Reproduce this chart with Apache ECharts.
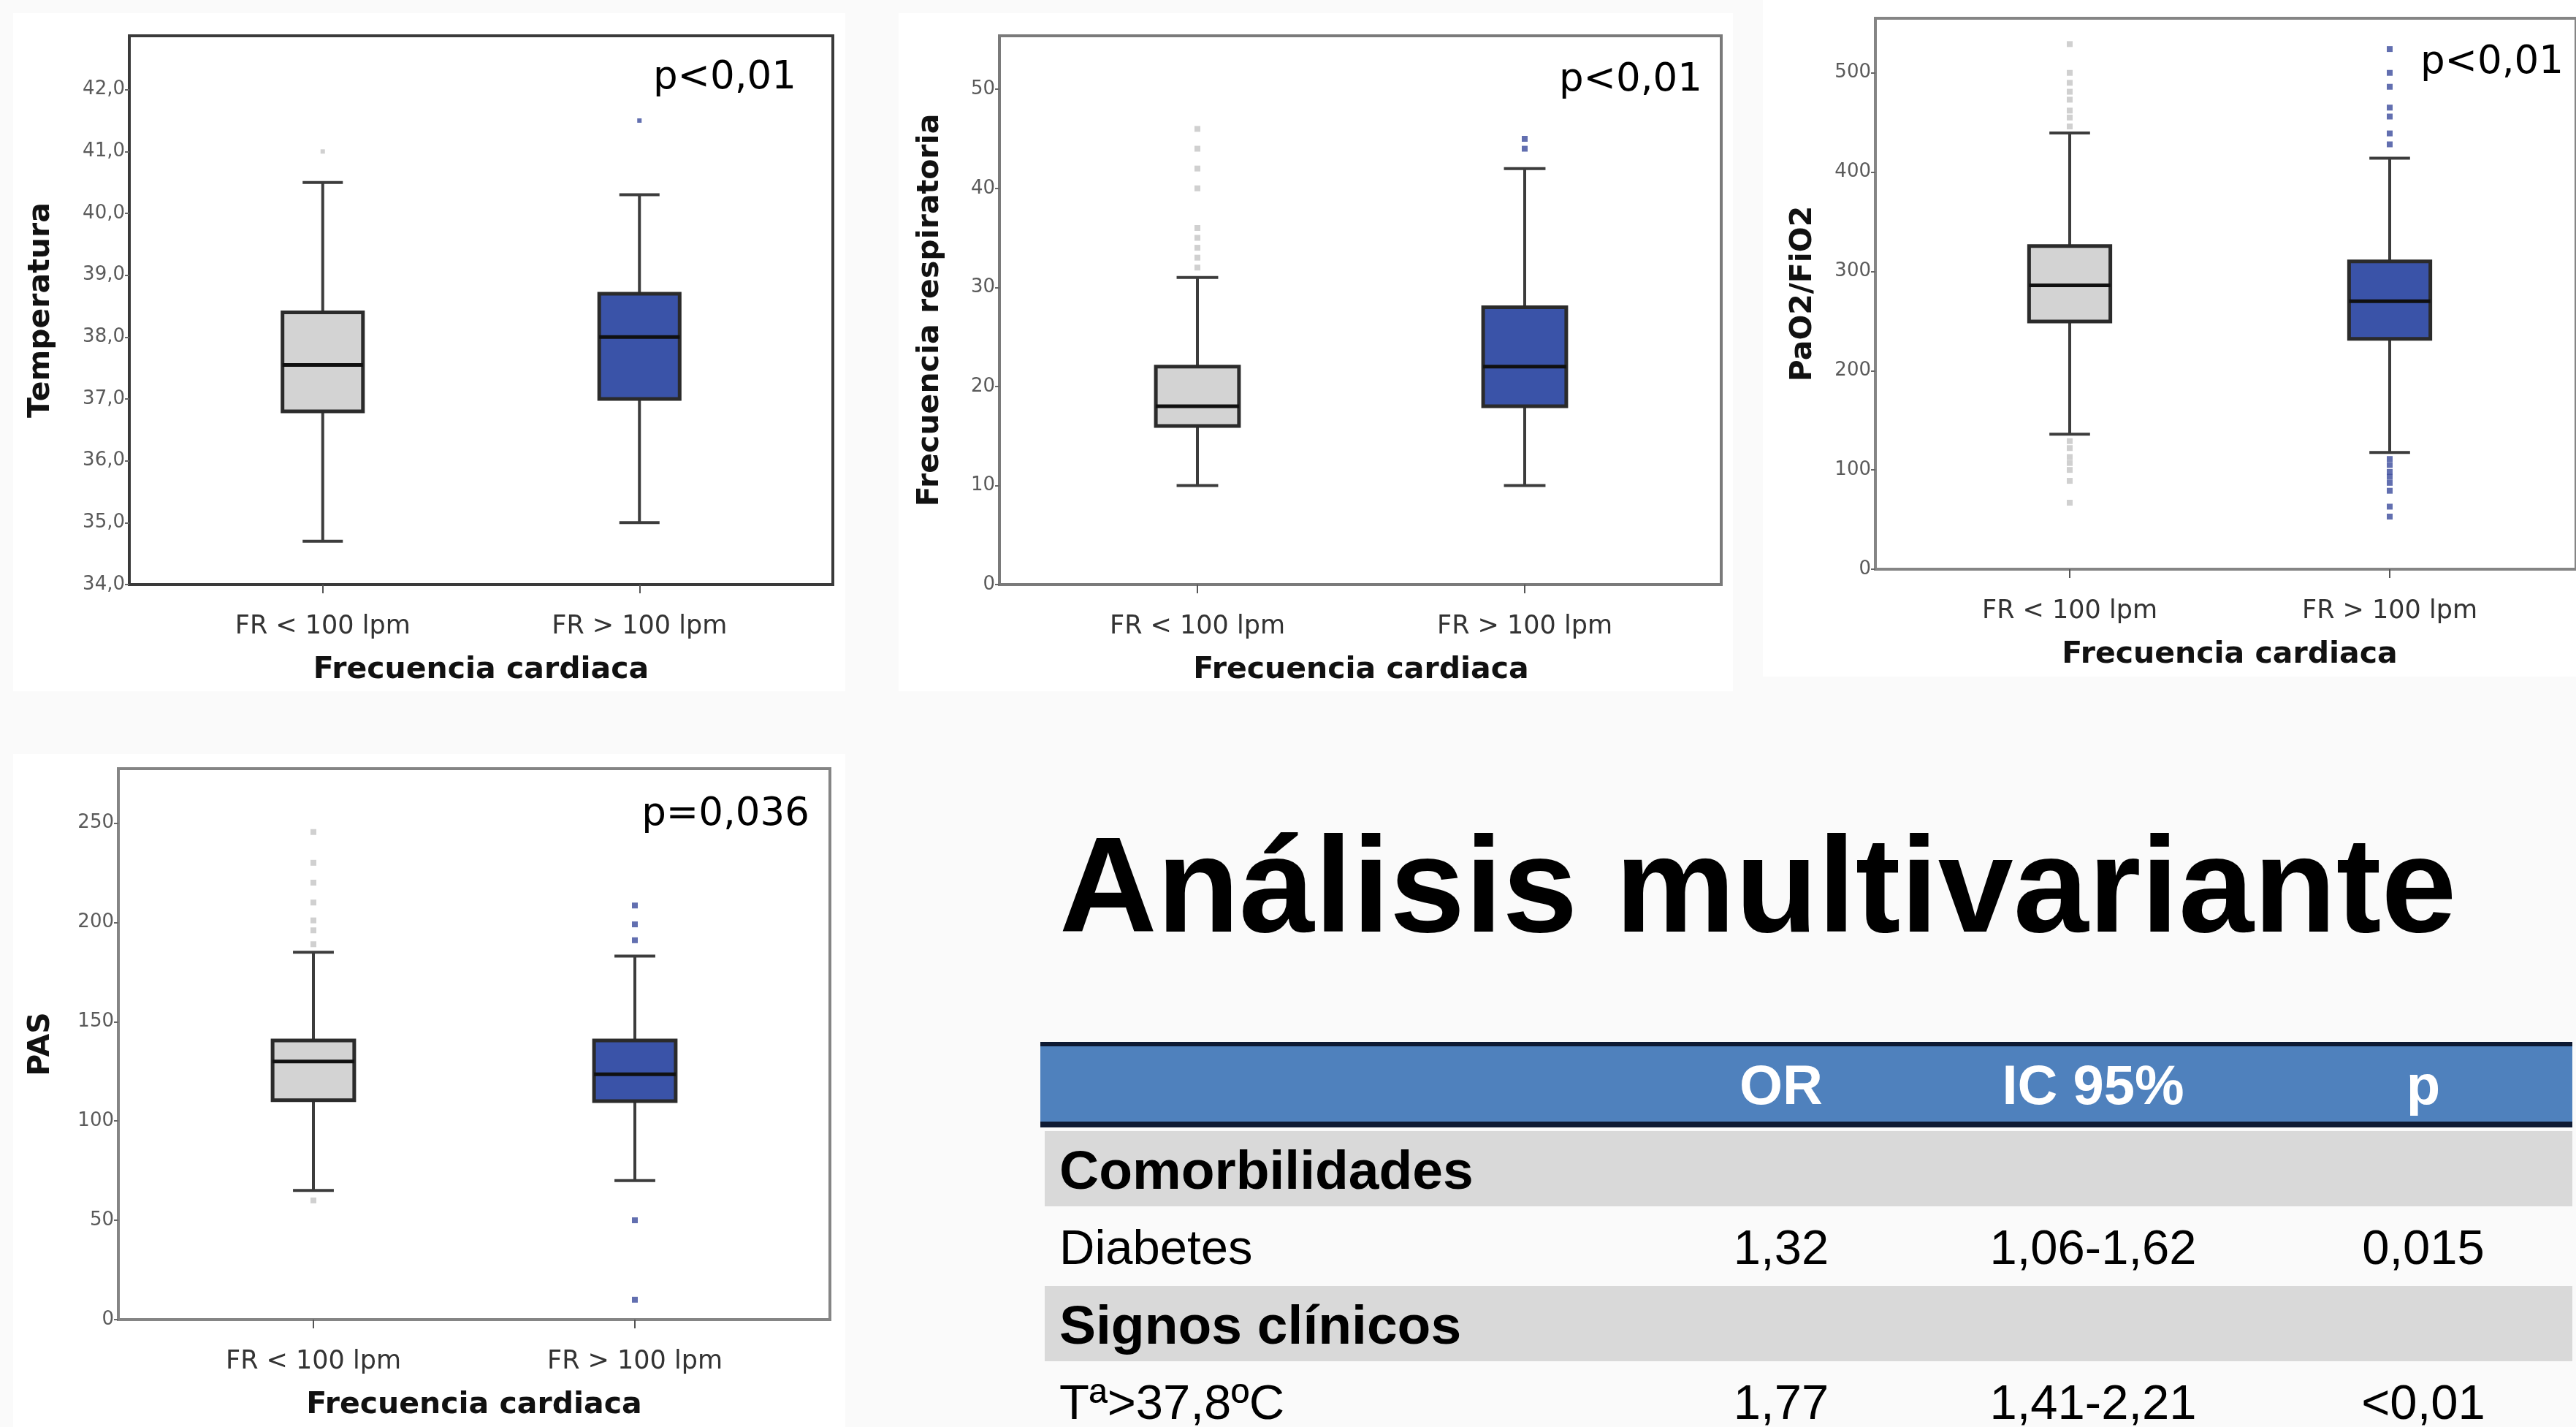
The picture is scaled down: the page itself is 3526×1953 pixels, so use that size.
<!DOCTYPE html>
<html>
<head>
<meta charset="utf-8">
<script src="https://cdn.jsdelivr.net/npm/echarts@6/dist/echarts.min.js"></script>
<style>
html,body{margin:0;padding:0;background:#fafafa;}
#main{width:3526px;height:1953px;}
</style>
</head>
<body>
<div id="main"></div>
<script>
// ---------- DATA ----------
const categories = ['FR < 100 lpm', 'FR > 100 lpm'];
const xAxisTitle = 'Frecuencia cardiaca';
const yTitles = ['Temperatura', 'Frecuencia respiratoria', 'PaO2/FiO2', 'PAS'];
const pTexts = ['p<0,01', 'p<0,01', 'p<0,01', 'p=0,036'];

// [low whisker, Q1, median, Q3, high whisker]
const tempBoxes = [[34.7, 36.8, 37.55, 38.4, 40.5], [35.0, 37.0, 38.0, 38.7, 40.3]];
const tempOutliers = [[41.0], [41.5]];
const tempTicks = [34, 35, 36, 37, 38, 39, 40, 41, 42];

const respBoxes = [[10, 16, 18, 22, 31], [10, 18, 22, 28, 42]];
const respOutliers = [[32, 33, 34, 35, 36, 40, 42, 44, 46], [44, 45]];
const respTicks = [0, 10, 20, 30, 40, 50];

const pafiBoxes = [[136, 249.5, 286, 325.5, 439.5], [117.5, 232, 270, 310, 414]];
const pafiOutliers = [
  [446, 455, 462, 473, 481, 490, 500, 529, 129, 122, 113, 107, 100, 89, 67],
  [428, 439, 456, 465, 486, 500, 524, 111, 105, 98, 93, 87, 79, 63, 53]
];
const pafiTicks = [0, 100, 200, 300, 400, 500];

const pasBoxes = [[65, 110.5, 130, 140.5, 185], [70, 110, 123.5, 140.5, 183]];
const pasOutliers = [[189, 196, 201, 210, 220, 230, 245.5, 60], [191, 199, 208.5, 50, 10]];
const pasTicks = [0, 50, 100, 150, 200, 250];

const yMins = [34, 0, 0, 0];
const yMaxs = [42.87, 55.4, 555, 277.4];
const tickDecimals = [1, 0, 0, 0];

const tableTitle = 'Análisis multivariante';
const tableColumns = ['OR', 'IC 95%', 'p'];
const tableRowLabels = ['Comorbilidades', 'Diabetes', 'Signos clínicos', 'Tª>37,8ºC'];
const tableRowIsSection = [true, false, true, false];
const tableOR = ['', '1,32', '', '1,77'];
const tableIC = ['', '1,06-1,62', '', '1,41-2,21'];
const tableP = ['', '0,015', '', '<0,01'];

// ---------- LAYOUT / STYLE ----------
const allBoxes = [tempBoxes, respBoxes, pafiBoxes, pasBoxes];
const allOutliers = [tempOutliers, respOutliers, pafiOutliers, pasOutliers];
const allTicks = [tempTicks, respTicks, pafiTicks, pasTicks];

const layout = [
  {frame: [177, 49, 1140, 800], box: [225, 1092], nameGap: 100, pRight: 1090, pY: 107, frameColor: '#3a3a3a', dot: 6},
  {frame: [1368, 49, 2356, 800], box: [1415, 2311], nameGap: 74, pRight: 2330, pY: 110, frameColor: '#7a7a7a', dot: 8},
  {frame: [2567, 25, 3545, 779], box: [2614, 3490], nameGap: 78, pRight: 3509, pY: 86, frameColor: '#858585', dot: 8},
  {frame: [162, 1052, 1136, 1806], box: [209, 1089], nameGap: 85, pRight: 1108, pY: 1115, frameColor: '#858585', dot: 8}
];
const panels = [
  [18, 18, 1157, 946], [1230, 18, 2372, 946], [2413, 0, 3526, 926], [18, 1032, 1157, 1953]
];
const boxFill = ['#d3d3d3', '#3a53a8'];
const outlierColor = ['#c4c4c4', '#3b4b9c'];
const sansFont = 'DejaVu Sans';

function makeRender() {
  return function (params, api) {
    const c = api.value(0);
    const low = api.coord([c, api.value(1)]);
    const q1 = api.coord([c, api.value(2)]);
    const med = api.coord([c, api.value(3)]);
    const q3 = api.coord([c, api.value(4)]);
    const high = api.coord([c, api.value(5)]);
    const band = api.size([1, 0])[0];
    const hw = band * 0.127;
    const cw = hw * 0.5;
    const x = low[0];
    const ws = {stroke: '#3c3c3c', lineWidth: 4};
    return {
      type: 'group',
      children: [
        {type: 'line', shape: {x1: x, y1: high[1], x2: x, y2: q3[1]}, style: ws},
        {type: 'line', shape: {x1: x, y1: q1[1], x2: x, y2: low[1]}, style: ws},
        {type: 'line', shape: {x1: x - cw, y1: high[1], x2: x + cw, y2: high[1]}, style: ws},
        {type: 'line', shape: {x1: x - cw, y1: low[1], x2: x + cw, y2: low[1]}, style: ws},
        {type: 'rect', shape: {x: x - hw, y: q3[1], width: 2 * hw, height: q1[1] - q3[1]},
          style: {fill: boxFill[params.dataIndex], stroke: '#2b2b2b', lineWidth: 5}},
        {type: 'line', shape: {x1: x - hw, y1: med[1], x2: x + hw, y2: med[1]},
          style: {stroke: '#101010', lineWidth: 5}}
      ]
    };
  };
}

const grid = [], xAxis = [], yAxis = [], series = [], graphic = [];

panels.forEach(function (p) {
  graphic.push({type: 'rect', z: -100, shape: {x: p[0], y: p[1], width: p[2] - p[0], height: p[3] - p[1]},
    style: {fill: '#ffffff'}});
});

layout.forEach(function (L, i) {
  const fl = L.frame[0], ft = L.frame[1], fr = L.frame[2], fb = L.frame[3];
  const gf = 2 * i, gb = 2 * i + 1;
  grid.push({left: fl, top: ft, width: fr - fl, height: fb - ft, show: true,
    backgroundColor: 'transparent', borderColor: L.frameColor, borderWidth: 4});
  grid.push({left: L.box[0], top: ft, width: L.box[1] - L.box[0], height: fb - ft});
  xAxis.push({gridIndex: gf, type: 'category', data: categories, show: false});
  xAxis.push({
    gridIndex: gb, type: 'category', data: categories,
    axisLine: {show: false},
    axisTick: {show: true, alignWithLabel: true, length: 12, lineStyle: {color: '#555', width: 2}},
    axisLabel: {interval: 0, margin: 40, fontSize: 35, fontFamily: sansFont, color: '#333'},
    name: xAxisTitle, nameLocation: 'middle', nameGap: 97,
    nameTextStyle: {fontSize: 41, fontWeight: 'bold', fontFamily: sansFont, color: '#111'}
  });
  const ticks = allTicks[i];
  const dec = tickDecimals[i];
  yAxis.push({
    gridIndex: gf, type: 'value', min: yMins[i], max: yMaxs[i],
    axisLine: {show: false}, splitLine: {show: false},
    axisTick: {show: true, length: 6, customValues: ticks, lineStyle: {color: '#666', width: 2}},
    axisLabel: {customValues: ticks, margin: 6, fontSize: 26, fontFamily: sansFont, color: '#5a5a5a',
      formatter: function (v) { return v.toFixed(dec).replace('.', ','); }},
    name: yTitles[i], nameLocation: 'middle', nameGap: L.nameGap, nameRotate: 90,
    nameTextStyle: {fontSize: 41, fontWeight: 'bold', fontFamily: sansFont, color: '#111'}
  });
  yAxis.push({gridIndex: gb, type: 'value', min: yMins[i], max: yMaxs[i], show: false});

  series.push({
    type: 'custom', xAxisIndex: gb, yAxisIndex: gb, renderItem: makeRender(),
    encode: {x: 0, y: [1, 2, 3, 4, 5]},
    data: allBoxes[i].map(function (b, k) { return [k].concat(b); }),
    z: 3
  });
  const outData = [];
  allOutliers[i].forEach(function (arr, k) { arr.forEach(function (v) { outData.push([k, v]); }); });
  series.push({
    type: 'scatter', xAxisIndex: gb, yAxisIndex: gb, symbol: 'rect', symbolSize: L.dot,
    itemStyle: {color: function (p) { return outlierColor[p.data[0]]; }},
    data: outData, z: 2
  });

  graphic.push({type: 'text', z: 100, x: L.pRight, y: L.pY,
    style: {text: pTexts[i], fill: '#000', font: '53px "DejaVu Sans"', align: 'right', verticalAlign: 'middle'}});
});

// ---------- title + table ----------
graphic.push({type: 'text', z: 100, x: 1450, y: 1224,
  style: {text: tableTitle, fill: '#000', font: 'bold 185px "Liberation Sans"', align: 'left', verticalAlign: 'middle'}});

const tX = 1424, tW = 2097;
const colCenters = [2438, 2865, 3317];
graphic.push({type: 'rect', z: 50, shape: {x: tX, y: 1426, width: tW, height: 6}, style: {fill: '#0e1a33'}});
graphic.push({type: 'rect', z: 50, shape: {x: tX, y: 1432, width: tW, height: 103}, style: {fill: '#4f81bd'}});
graphic.push({type: 'rect', z: 50, shape: {x: tX, y: 1535, width: tW, height: 8}, style: {fill: '#0e1a33'}});
tableColumns.forEach(function (c, j) {
  graphic.push({type: 'text', z: 100, x: colCenters[j], y: 1490,
    style: {text: c, fill: '#ffffff', font: 'bold 76px "Liberation Sans"', align: 'center', verticalAlign: 'middle'}});
});
tableRowLabels.forEach(function (lab, r) {
  const top = 1548 + r * 106;
  const cy = top + 58;
  if (tableRowIsSection[r]) {
    graphic.push({type: 'rect', z: 50, shape: {x: tX + 6, y: top, width: tW - 6, height: 103}, style: {fill: '#d9d9d9'}});
  }
  graphic.push({type: 'text', z: 100, x: 1450, y: cy,
    style: {text: lab, fill: '#000',
      font: (tableRowIsSection[r] ? 'bold 75px ' : '67px ') + '"Liberation Sans"',
      align: 'left', verticalAlign: 'middle'}});
  [tableOR[r], tableIC[r], tableP[r]].forEach(function (v, j) {
    if (!v) return;
    graphic.push({type: 'text', z: 100, x: colCenters[j], y: cy,
      style: {text: v, fill: '#000', font: '67px "Liberation Sans"', align: 'center', verticalAlign: 'middle'}});
  });
});

const chart = echarts.init(document.getElementById('main'));
chart.setOption({
  backgroundColor: '#fafafa',
  animation: false,
  grid: grid, xAxis: xAxis, yAxis: yAxis, series: series, graphic: graphic
});
</script>
</body>
</html>
